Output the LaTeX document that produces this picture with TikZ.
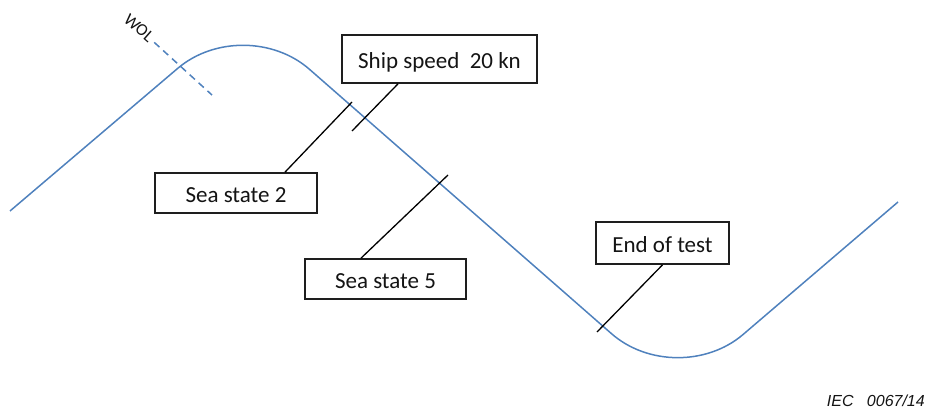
\documentclass[tikz,border=0pt]{standalone}
\usepackage{fontspec}
\setmainfont{Carlito}
\newfontfamily\arialfont{Liberation Sans}
\definecolor{wavecol}{RGB}{79,129,189}
\definecolor{boxcol}{RGB}{30,30,30}
\definecolor{textcol}{RGB}{20,20,20}
\begin{document}
\begin{tikzpicture}[x=1pt,y=-1pt,
  wave/.style={draw=wavecol, line width=1.5pt},
  wolline/.style={draw=wavecol, line width=1.5pt, dash pattern=on 7pt off 5pt},
  labelbox/.style={draw=boxcol, line width=1.7pt, fill=white, inner sep=0pt,
    text=textcol, font=\fontsize{23}{27}\selectfont,
    text height=20pt, text depth=0pt, align=center},
  lead/.style={draw=black, line width=1.3pt}]
\useasboundingbox (0,0) rectangle (930,414);
% wave
\draw[wave, rounded corners=87pt] (10,211) -- (244,12) -- (677,391) -- (898,202);
% WOL
\node[font=\fontsize{17}{19}\selectfont, rotate=-41, text=textcol, inner sep=2pt] (wol) at (139,28) {WOL};
\coordinate (w2) at (212,95);
\draw[wolline] ([shift={(1pt,-2pt)}]wol.east) -- (w2);
% boxes
\node[labelbox, minimum width=195pt, minimum height=48pt] (ship) at (439.5,59) {Ship speed\ \ 20 kn};
\node[labelbox, minimum width=162pt, minimum height=40pt] (ss2) at (236,193) {Sea state 2};
\node[labelbox, minimum width=161pt, minimum height=40pt] (ss5) at (385.5,279) {Sea state 5};
\node[labelbox, minimum width=133pt, minimum height=42pt] (eot) at (662.5,243) {End of test};
% lead ends
\coordinate (c2) at (352,102);
\coordinate (cs) at (352,131);
\coordinate (c5) at (448,175);
\coordinate (ce) at (597,332);
\draw[lead] ([xshift=49pt]ss2.north) -- (c2);
\draw[lead] ([xshift=-41.5pt]ship.south) -- (cs);
\draw[lead] ([xshift=-24.5pt]ss5.north) -- (c5);
\draw[lead] (eot.south) -- (ce);
% source label
\node[font=\arialfont\itshape\fontsize{16}{19}\selectfont, anchor=base east, inner sep=0pt, text=textcol] (iec) at (925,406.5) {IEC\ \ \ 0067/14};
\end{tikzpicture}
\end{document}
